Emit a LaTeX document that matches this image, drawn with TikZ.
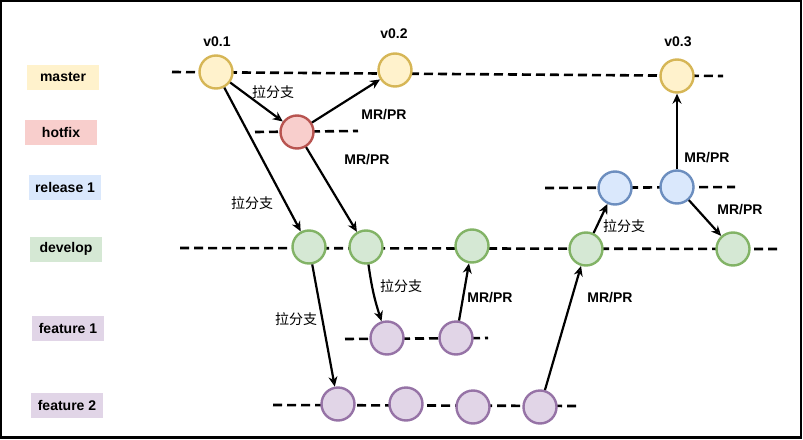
\documentclass[tikz,border=0pt]{standalone}
\usepackage{fontspec}
\setmainfont{Liberation Sans}
\newfontfamily\cjkfont{Noto Sans CJK SC}
\usetikzlibrary{arrows.meta}
\definecolor{yfill}{HTML}{FFF2CC}\definecolor{ydraw}{HTML}{D6B656}
\definecolor{rfill}{HTML}{F8CECC}\definecolor{rdraw}{HTML}{B85450}
\definecolor{bfill}{HTML}{DAE8FC}\definecolor{bdraw}{HTML}{6C8EBF}
\definecolor{gfill}{HTML}{D5E8D4}\definecolor{gdraw}{HTML}{82B366}
\definecolor{pfill}{HTML}{E1D5E7}\definecolor{pdraw}{HTML}{9673A6}
\begin{document}
\begin{tikzpicture}[x=1pt,y=-1pt,
  commit/.style={circle,minimum size=33pt,inner sep=0pt,line width=2.4pt},
  mcommit/.style={commit,fill=yfill,draw=ydraw},
  hcommit/.style={commit,fill=rfill,draw=rdraw},
  rcommit/.style={commit,fill=bfill,draw=bdraw},
  dcommit/.style={commit,fill=gfill,draw=gdraw},
  fcommit/.style={commit,fill=pfill,draw=pdraw},
  tag/.style={font=\fontsize{14}{16}\selectfont\bfseries,text=black,minimum width=72pt,minimum height=25pt,inner sep=0pt},
  lbl/.style={font=\fontsize{14}{16}\selectfont\bfseries,inner sep=0pt},
  cn/.style={font=\cjkfont\fontsize{14}{16}\selectfont,inner sep=0pt},
  timeline/.style={line width=2.6pt,dash pattern=on 9pt off 5pt},
  arr/.style={line width=2.2pt,-{Stealth[open,length=10pt,width=9pt,line width=1.6pt]}}
]
\useasboundingbox (0,0) rectangle (803,439);
\draw[line width=2.2pt] (1.1,1.1) rectangle (801,437.5);

% branch labels
\node[tag,fill=yfill] (tmaster) at (63,77) {master};
\node[tag,fill=rfill] (thotfix) at (61,132) {hotfix};
\node[tag,fill=bfill] (trelease) at (65,187) {release 1};
\node[tag,fill=gfill] (tdevelop) at (66,249) {develop};
\node[tag,fill=pfill] (tf1) at (68,328) {feature 1};
\node[tag,fill=pfill] (tf2) at (67,405) {feature 2};

% timeline ends
\coordinate (m0) at (172,72); \coordinate (m1) at (723,76);
\coordinate (h0) at (255,132); \coordinate (h1) at (358,131);
\coordinate (r0) at (545,188); \coordinate (r1) at (735,187);
\coordinate (d0) at (180,248); \coordinate (d1) at (778,249);
\coordinate (f10) at (345,339); \coordinate (f11) at (488,338);
\coordinate (f20) at (273,405); \coordinate (f21) at (578,406);
\draw[timeline] (m0) -- (m1);
\draw[timeline] (h0) -- (h1);
\draw[timeline] (r0) -- (r1);
\draw[timeline] (d0) -- (d1);
\draw[timeline] (f10) -- (f11);
\draw[timeline] (f20) -- (f21);

% commits
\node[mcommit] (v1) at (216,72) {};
\node[mcommit] (v2) at (395,70) {};
\node[mcommit] (v3) at (677,76) {};
\node[hcommit] (h) at (297,132) {};
\node[rcommit] (r1c) at (615,188) {};
\node[rcommit] (r2c) at (677,187) {};
\node[dcommit] (d1c) at (309,247) {};
\node[dcommit] (d2c) at (366,247) {};
\node[dcommit] (d3c) at (472,246) {};
\node[dcommit] (d4c) at (586,249) {};
\node[dcommit] (d5c) at (733,249) {};
\node[fcommit] (a1) at (387,338) {};
\node[fcommit] (a2) at (456,338) {};
\node[fcommit] (b1) at (338,404) {};
\node[fcommit] (b2) at (406,404) {};
\node[fcommit] (b3) at (473,407) {};
\node[fcommit] (b4) at (540,407) {};

% version labels
\node[lbl] (lv1) at (217,42) {v0.1};
\node[lbl] (lv2) at (394,34) {v0.2};
\node[lbl] (lv3) at (678,42) {v0.3};

% arrows
\draw[arr] (v1) -- (h);
\draw[arr] (h) -- (v2);
\draw[arr] (v1) -- (d1c);
\draw[arr] (h) -- (d2c);
\draw[arr] (d1c) -- (b1);
\draw[arr] (d2c) to[bend right=5] (a1);
\draw[arr] (a2) -- (d3c);
\draw[arr] (b4) -- (d4c);
\draw[arr] (d4c) -- (r1c);
\draw[arr] (r2c) -- (v3);
\draw[arr] (r2c) -- (d5c);

% arrow labels
\node[cn] (c1) at (273,92) {拉分支};
\node[lbl] (p1) at (384,115) {MR/PR};
\node[cn] (c2) at (252,203) {拉分支};
\node[lbl] (p2) at (367,160) {MR/PR};
\node[cn] (c3) at (296,319) {拉分支};
\node[cn] (c4) at (401,286) {拉分支};
\node[lbl] (p3) at (490,298) {MR/PR};
\node[lbl] (p4) at (610,298) {MR/PR};
\node[cn] (c5) at (624,226) {拉分支};
\node[lbl] (p5) at (707,158) {MR/PR};
\node[lbl] (p6) at (740,210) {MR/PR};
\end{tikzpicture}
\end{document}
